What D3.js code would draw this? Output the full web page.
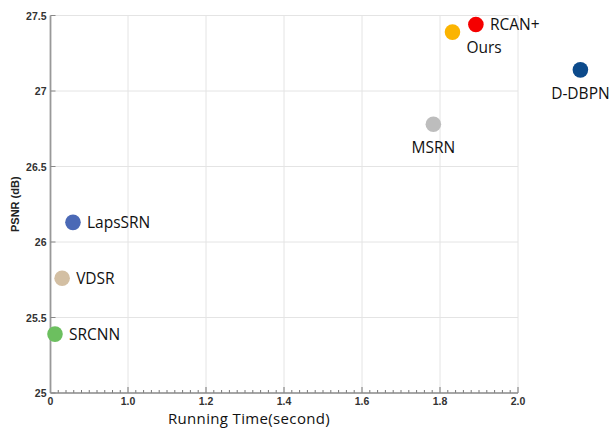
<!DOCTYPE html>
<html>
<head>
<meta charset="utf-8">
<script src="https://cdn.jsdelivr.net/npm/d3@7"></script>
<style>
  html, body { margin: 0; padding: 0; background: #fff; }
  svg { display: block; }
</style>
</head>
<body>
<svg id="chart" width="614" height="430"></svg>
<script>
// Methods: running time (s) vs PSNR (dB)
const methods = ["SRCNN", "VDSR", "LapsSRN", "MSRN", "Ours", "RCAN+", "D-DBPN"];
const runTimes = [0.058, 0.15, 0.29, 1.783, 1.832, 1.892, 2.16];
const psnrValues = [25.39, 25.76, 26.13, 26.78, 27.39, 27.44, 27.14];
const pointColors = ["#6cbf5f", "#d3bfa3", "#4b69b6", "#bdbdbd", "#fbb400", "#f50000", "#0c4a8b"];
// label placement per method
const labelSides = ["right", "right", "right", "below", "belowRight", "right", "below"];

const xTickValues = [0, 1.0, 1.2, 1.4, 1.6, 1.8, 2.0];
const xTickLabels = ["0", "1.0", "1.2", "1.4", "1.6", "1.8", "2.0"];
const yTickValues = [25, 25.5, 26, 26.5, 27, 27.5];
const yTickLabels = ["25", "25.5", "26", "26.5", "27", "27.5"];

const svg = d3.select("#chart");

// Broken x axis: 0–1.0 compressed, 1.0–2.0 full scale
const x = d3.scaleLinear().domain([0, 1.0, 2.0]).range([50.5, 128, 518]);
const y = d3.scaleLinear().domain([25, 27.5]).range([393, 15.5]);

const plotLeft = x(0), plotRight = x(2.0), plotBottom = y(25), plotTop = y(27.5);

// grid
const grid = svg.append("g");
grid.selectAll("line.v").data(xTickValues.slice(1)).join("line")
  .attr("class", "v")
  .attr("x1", d => x(d)).attr("x2", d => x(d))
  .attr("y1", plotTop).attr("y2", plotBottom)
  .attr("stroke", "#e4e4e4").attr("stroke-width", 1);
grid.selectAll("line.h").data(yTickValues.slice(1)).join("line")
  .attr("class", "h")
  .attr("x1", plotLeft).attr("x2", plotRight)
  .attr("y1", d => y(d)).attr("y2", d => y(d))
  .attr("stroke", "#e4e4e4").attr("stroke-width", 1);

// x axis: minor ticks pointing up
const minorLow = d3.range(1, 10).map(i => i * 0.1);
const minorHigh = d3.range(1, 50).map(i => 1.0 + i * 0.02)
  .filter(v => Math.abs((v - 1.0) / 0.2 - Math.round((v - 1.0) / 0.2)) > 1e-6);
const xAxisG = svg.append("g");
xAxisG.selectAll("line.minor").data(minorLow.concat(minorHigh)).join("line")
  .attr("class", "minor")
  .attr("x1", d => x(d)).attr("x2", d => x(d))
  .attr("y1", plotBottom).attr("y2", plotBottom - 3)
  .attr("stroke", "#777").attr("stroke-width", 1);
xAxisG.selectAll("line.major").data(xTickValues).join("line")
  .attr("class", "major")
  .attr("x1", d => x(d)).attr("x2", d => x(d))
  .attr("y1", plotBottom).attr("y2", plotBottom - 6)
  .attr("stroke", "#777").attr("stroke-width", 1);
xAxisG.append("line")
  .attr("x1", plotLeft).attr("x2", plotRight).attr("y1", plotBottom).attr("y2", plotBottom)
  .attr("stroke", "#888").attr("stroke-width", 1.5);
xAxisG.selectAll("text").data(xTickValues).join("text")
  .attr("x", d => x(d)).attr("y", plotBottom + 11.5)
  .attr("text-anchor", "middle")
  .attr("font-family", "'Liberation Sans', Arial, sans-serif")
  .attr("font-weight", "bold").attr("font-size", 10.5).attr("fill", "#333")
  .text((d, i) => xTickLabels[i]);

// y axis
const yAxisG = svg.append("g");
yAxisG.append("line")
  .attr("x1", plotLeft).attr("x2", plotLeft).attr("y1", plotTop).attr("y2", plotBottom)
  .attr("stroke", "#999").attr("stroke-width", 1.8);
yAxisG.selectAll("line.t").data(yTickValues).join("line")
  .attr("class", "t")
  .attr("x1", plotLeft).attr("x2", plotLeft + 5)
  .attr("y1", d => y(d)).attr("y2", d => y(d))
  .attr("stroke", "#888").attr("stroke-width", 1);
yAxisG.selectAll("text").data(yTickValues).join("text")
  .attr("x", plotLeft - 4).attr("y", d => y(d) + 4)
  .attr("text-anchor", "end")
  .attr("font-family", "'Liberation Sans', Arial, sans-serif")
  .attr("font-weight", "bold").attr("font-size", 10.5).attr("fill", "#333")
  .text((d, i) => yTickLabels[i]);

// axis titles
svg.append("text")
  .attr("transform", `translate(19,${(plotTop + plotBottom) / 2}) rotate(-90)`)
  .attr("text-anchor", "middle")
  .attr("font-family", "'Liberation Sans', Arial, sans-serif")
  .attr("font-weight", "bold").attr("font-size", 11).attr("fill", "#222")
  .text("PSNR (dB)");
svg.append("text")
  .attr("x", 249).attr("y", 423.5)
  .attr("text-anchor", "middle")
  .attr("font-family", "'Open Sans', sans-serif")
  .attr("font-size", 15).attr("letter-spacing", 0.35).attr("fill", "#111")
  .text("Running Time(second)");

// points
const pts = methods.map((m, i) => ({ name: m, t: runTimes[i], p: psnrValues[i], c: pointColors[i], side: labelSides[i] }));
svg.append("g").selectAll("circle").data(pts).join("circle")
  .attr("cx", d => x(d.t)).attr("cy", d => y(d.p))
  .attr("r", 7.8).attr("fill", d => d.c);

// labels
svg.append("g").selectAll("text").data(pts).join("text")
  .attr("font-family", "'Open Sans', sans-serif")
  .attr("font-size", 15.5).attr("fill", "#111")
  .attr("text-anchor", d => d.side === "below" ? "middle" : "start")
  .attr("x", d => d.side === "below" ? x(d.t) : x(d.t) + 14)
  .attr("y", d => {
    if (d.side === "below") return y(d.p) + 29;
    if (d.side === "belowRight") return y(d.p) + 21;
    return y(d.p) + 5.5;
  })
  .text(d => d.name);
</script>
</body>
</html>
